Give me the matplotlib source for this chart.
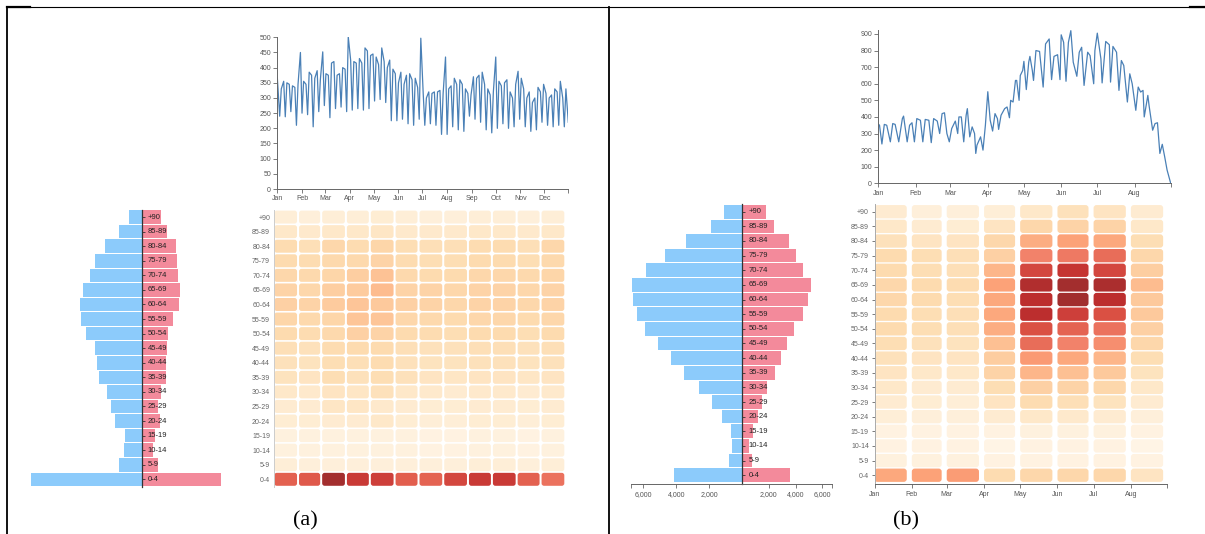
import matplotlib
matplotlib.use("Agg")
import matplotlib.pyplot as plt
from matplotlib.patches import FancyBboxPatch
from matplotlib.lines import Line2D
from matplotlib.colors import PowerNorm

# figure size in pixels, everything below is placed in pixel coords
W, H = 1205, 534

plt.rcParams["font.family"] = ["Liberation Sans", "DejaVu Sans"]

age_groups = ["+90", "85-89", "80-84", "75-79", "70-74", "65-69", "60-64",
              "55-59", "50-54", "45-49", "40-44", "35-39", "30-34", "25-29",
              "20-24", "15-19", "10-14", "5-9", "0-4"]

month_names = ["Jan", "Feb", "Mar", "Apr", "May", "Jun",
               "Jul", "Aug", "Sep", "Oct", "Nov", "Dec"]
# day-of-year where each month starts (leap year)
month_starts = [0, 31, 60, 91, 121, 152, 182, 213, 244, 274, 305, 335, 366]

# --- panel (a) data ---
a_male = [330, 580, 930, 1180, 1330, 1500, 1580, 1540, 1430, 1200,
          1150, 1090, 880, 790, 670, 420, 450, 580, 2830]
a_female = [500, 650, 880, 900, 950, 990, 960, 820, 690, 650,
            640, 620, 490, 420, 470, 350, 290, 420, 2030]

a_days = [0, 3, 5, 8, 10, 12, 15, 17, 19, 22, 24, 26, 29, 31, 33, 36,
          38, 40, 43, 45, 47, 50, 52, 54, 57, 59, 61, 64, 66, 68, 71,
          73, 75, 78, 80, 82, 85, 87, 89, 92, 94, 96, 99, 101, 103, 106,
          108, 110, 113, 115, 117, 120, 122, 124, 127, 129, 131, 134,
          136, 138, 141, 143, 145, 148, 150, 152, 155, 157, 159, 162,
          164, 166, 169, 171, 173, 176, 178, 180, 183, 185, 187, 190,
          192, 194, 197, 199, 201, 204, 206, 208, 211, 213, 215, 218,
          220, 222, 225, 227, 229, 232, 234, 236, 239, 241, 243, 246,
          248, 250, 253, 255, 257, 260, 262, 264, 267, 269, 271, 274,
          276, 278, 281, 283, 285, 288, 290, 292, 295, 297, 299, 302,
          304, 306, 309, 311, 313, 316, 318, 320, 323, 325, 327, 330,
          332, 334, 337, 339, 341, 344, 346, 348, 351, 353, 355, 358,
          360, 362, 365]
a_values = [368, 240, 330, 355, 238, 350, 345, 255, 340, 335, 210, 345, 450,
            250, 355, 345, 245, 385, 375, 205, 365, 390, 255, 360, 452,
            275, 380, 375, 235, 415, 420, 265, 375, 380, 270, 400, 395,
            255, 502, 425, 260, 420, 415, 265, 430, 415, 260, 465, 455,
            265, 440, 445, 290, 435, 410, 295, 465, 420, 285, 400, 425,
            225, 395, 380, 225, 350, 385, 230, 345, 375, 215, 380, 360,
            210, 365, 335, 230, 497, 315, 210, 300, 320, 215, 315, 320,
            210, 320, 325, 180, 315, 435, 180, 330, 340, 205, 365, 345,
            195, 360, 345, 190, 330, 315, 240, 310, 370, 230, 365, 375,
            220, 385, 345, 195, 330, 310, 185, 320, 435, 200, 355, 340,
            215, 350, 360, 200, 320, 300, 205, 345, 388, 230, 365, 330,
            205, 300, 320, 190, 285, 300, 195, 335, 320, 220, 345, 315,
            210, 300, 310, 205, 330, 320, 210, 355, 300, 205, 330, 220]

heat_a = [
    [6, 5, 6, 6, 7, 6, 5, 5, 6, 6, 5, 6],
    [10, 9, 10, 10, 11, 9, 9, 9, 10, 10, 9, 10],
    [17, 15, 20, 17, 21, 16, 15, 15, 17, 17, 15, 20],
    [18, 17, 19, 19, 22, 17, 16, 16, 18, 18, 16, 19],
    [20, 19, 21, 25, 31, 19, 18, 18, 20, 20, 19, 21],
    [22, 20, 25, 27, 33, 22, 22, 20, 22, 22, 20, 22],
    [24, 22, 27, 30, 28, 24, 22, 20, 22, 22, 20, 22],
    [21, 19, 21, 30, 30, 20, 19, 18, 20, 20, 18, 20],
    [18, 17, 19, 24, 22, 18, 17, 16, 18, 18, 16, 18],
    [15, 14, 17, 18, 18, 15, 14, 14, 15, 15, 14, 15],
    [14, 13, 16, 15, 17, 14, 13, 13, 14, 14, 13, 14],
    [13, 12, 16, 14, 16, 14, 12, 11, 12, 12, 11, 12],
    [10, 9, 12, 11, 14, 10, 9, 8, 9, 9, 8, 9],
    [8, 8, 11, 11, 9, 8, 7, 7, 8, 8, 7, 8],
    [7, 7, 8, 8, 10, 7, 6, 6, 7, 7, 6, 7],
    [4, 4, 4, 4, 4, 4, 3, 3, 4, 4, 3, 4],
    [4, 4, 4, 4, 4, 4, 3, 3, 4, 4, 3, 4],
    [6, 5, 5, 5, 5, 5, 5, 5, 6, 6, 5, 6],
    [66, 68, 95, 80, 78, 67, 65, 75, 80, 80, 66, 60],
]

# --- panel (b) data ---
b_male = [1100, 1920, 3380, 4660, 5850, 6700, 6630, 6380, 5900, 5120,
          4340, 3540, 2610, 1810, 1210, 660, 620, 820, 4110]
b_female = [1770, 2390, 3500, 4020, 4590, 5130, 4960, 4590, 3880, 3330,
            2880, 2450, 1820, 1510, 1200, 770, 510, 710, 3620]

b_days = [0, 1, 3, 5, 7, 10, 12, 14, 17, 20, 21, 24, 26, 28, 30,
          32, 35, 37, 39, 42, 44, 46, 49, 51, 53, 55, 57,
          59, 61, 64, 66, 67, 69, 71, 73, 74, 76, 78, 80, 81, 82, 85, 87, 89,
          91, 93, 95, 97, 99, 100, 102, 105, 107, 109, 110, 112, 114, 115,
          117, 118, 120, 121, 123, 125, 126, 128, 129, 131, 134, 137, 139,
          142, 144, 146, 149, 151, 152, 154, 156, 158, 160, 162, 165, 167,
          169, 171, 174, 176, 179, 180, 182, 185, 186, 189, 192, 193, 195,
          198, 200, 202, 204, 207, 209, 211, 214, 216, 218, 220, 221, 224,
          225, 228, 230, 232, 234, 236, 238, 240, 243]
b_values = [357, 350, 237, 355, 350, 250, 360, 355, 250, 390, 405, 250, 350,
            365, 250, 390, 380, 250, 385, 380, 245, 390, 375, 300, 420, 425,
            300, 250, 330, 375, 300, 400, 400, 250, 410, 450, 280, 340, 300,
            180, 230, 280, 200, 350, 552, 380, 315, 420, 390, 325, 410, 450,
            460, 395, 500, 490, 620, 620, 500, 650, 680, 735, 565, 730, 765,
            680, 620, 800, 795, 580, 840, 870, 625, 765, 775, 625, 895, 850,
            615, 850, 920, 730, 645, 790, 820, 590, 790, 770, 600, 800, 905,
            750, 605, 855, 835, 610, 825, 790, 560, 740, 710, 490, 660, 600,
            440, 580, 550, 560, 400, 530, 470, 320, 360, 365, 180, 235, 160,
            80, 0]

heat_b = [
    [8, 5, 5, 6, 10, 14, 12, 8],
    [10, 8, 7, 12, 20, 22, 22, 10],
    [14, 12, 12, 20, 38, 42, 40, 16],
    [18, 16, 15, 24, 55, 58, 62, 20],
    [18, 16, 15, 35, 75, 82, 75, 25],
    [20, 18, 17, 42, 90, 95, 92, 33],
    [20, 18, 16, 40, 86, 96, 86, 28],
    [18, 16, 15, 40, 86, 78, 72, 28],
    [18, 16, 15, 38, 72, 65, 60, 24],
    [16, 14, 13, 32, 62, 55, 50, 20],
    [14, 12, 12, 26, 45, 40, 35, 16],
    [12, 10, 10, 22, 35, 32, 28, 13],
    [10, 8, 8, 16, 24, 22, 20, 10],
    [8, 7, 6, 12, 17, 15, 13, 8],
    [6, 5, 5, 8, 10, 9, 8, 5],
    [3, 3, 3, 3, 4, 4, 4, 3],
    [3, 3, 3, 2, 3, 3, 3, 2],
    [4, 4, 4, 3, 3, 3, 3, 3],
    [40, 42, 44, 17, 20, 20, 20, 12],
]

LINE_COLOR = "#4a80b6"
MALE_COLOR = "#8ccbfb"
FEMALE_COLOR = "#f38a9b"
AXIS_COLOR = "#666666"
cmap = plt.get_cmap("OrRd")
norm = PowerNorm(0.8, vmin=0, vmax=100)


def px_axes(fig, left, top, right, bottom):
    """add an axes given its box in pixels (y measured from the top)"""
    return fig.add_axes([left / W, 1 - bottom / H, (right - left) / W, (bottom - top) / H])


def style_axis(ax, spines=("left", "bottom")):
    for side in ("left", "right", "top", "bottom"):
        ax.spines[side].set_visible(side in spines)
        ax.spines[side].set_color(AXIS_COLOR)
        ax.spines[side].set_linewidth(0.7)
    ax.tick_params(length=3, width=0.6, color=AXIS_COLOR, labelsize=5,
                   labelcolor="#555555", pad=1.5)


def draw_line(ax, days, values, ymax, yticks, n_months, end_day):
    ax.plot(days, values, color=LINE_COLOR, lw=0.9)
    ax.set_xlim(0, end_day)
    ax.set_ylim(0, ymax)
    ax.set_yticks(yticks)
    ax.set_xticks(month_starts[:n_months] + [end_day])
    ax.set_xticklabels(month_names[:n_months] + [""])
    ax.set_facecolor("none")
    style_axis(ax)


def draw_heat(ax, matrix, n_months, end_day, gap_days, row_h, radius_px, box_px, ylim_bottom):
    width_px, height_px = box_px
    x_per_px = end_day / width_px
    y_per_px = (ylim_bottom + 0.5) / height_px
    for i, row in enumerate(matrix):
        for j, v in enumerate(row):
            x0 = month_starts[j]
            w = month_starts[j + 1] - x0 - gap_days
            ax.add_patch(FancyBboxPatch(
                (x0, i - row_h / 2), w, row_h,
                boxstyle="round,pad=0,rounding_size=%f" % (radius_px * x_per_px),
                mutation_aspect=y_per_px / x_per_px,
                fc=cmap(norm(v)), ec="none", alpha=0.82))
    ax.set_xlim(0, end_day)
    ax.set_ylim(ylim_bottom, -0.5)
    ax.set_yticks(range(len(age_groups)))
    ax.set_yticklabels(age_groups)
    ax.set_facecolor("none")


def draw_pyramid(fig, left, center, right, top, bottom, male, female,
                 lim_left, lim_right, ylim_bottom):
    axl = px_axes(fig, left, top, center, bottom)
    axr = px_axes(fig, center, top, right, bottom)
    rows = range(len(age_groups))
    axl.barh(rows, male, height=0.93, color=MALE_COLOR)
    axr.barh(rows, female, height=0.93, color=FEMALE_COLOR)
    axl.set_xlim(lim_left, 0)
    axr.set_xlim(0, lim_right)
    for ax in (axl, axr):
        ax.set_ylim(ylim_bottom, -0.5)
        ax.set_facecolor("none")
    style_axis(axl, spines=())
    style_axis(axr, spines=("left",))
    axl.set_yticks([])
    # centre line with age labels just to the right of it
    axr.spines["left"].set_color("#333333")
    axr.spines["left"].set_linewidth(0.9)
    axr.set_yticks(list(rows))
    axr.tick_params(axis="y", direction="in", length=2.5, color="#333333", labelleft=False)
    for i, lab in enumerate(age_groups):
        axr.annotate(lab, xy=(0, i), xycoords=("axes fraction", "data"),
                     xytext=(4.5, 0), textcoords="offset points",
                     va="center", ha="left", fontsize=5.5, color="#222222")
    return axl, axr


fig = plt.figure(figsize=(W / 100, H / 100), dpi=100)

# ---------------- panel (a) ----------------
ax = px_axes(fig, 277.3, 37.3, 568.3, 189)
draw_line(ax, a_days, a_values, 500, range(0, 501, 50), 12, 365)

ax = px_axes(fig, 274.3, 209.8, 566.3, 486.6)
draw_heat(ax, heat_a, 12, 366, 2.5, 0.89, 2.5, (292, 276.8), 18.5)
style_axis(ax, spines=("left",))
ax.spines["left"].set_color("#cccccc")
ax.tick_params(axis="y", length=0, pad=3, labelcolor="#666666")
ax.set_xticks([])

axl, axr = draw_pyramid(fig, 31, 141.5, 220.5, 209.8, 486.6, a_male, a_female,
                        2830, 2030, 18.5)
axl.set_xticks([])
axr.set_xticks([])

# ---------------- panel (b) ----------------
ax = px_axes(fig, 878.3, 30, 1170.7, 183.3)
draw_line(ax, b_days, b_values, 924, range(0, 901, 100), 8, 243)

ax = px_axes(fig, 874.5, 204.4, 1167, 484.3)
draw_heat(ax, heat_b, 8, 243, 4.2, 0.91, 3, (292.5, 279.9), 18.62)
style_axis(ax)
ax.spines["left"].set_color("#aaaaaa")
ax.tick_params(axis="y", length=2, pad=2, labelcolor="#666666")
ax.set_xticks(month_starts[:8] + [243])
ax.set_xticklabels(month_names[:8] + [""])

axl, axr = draw_pyramid(fig, 631, 742.3, 832, 204.4, 484.3, b_male, b_female,
                        6740, 6740, 18.62)
for a_ in (axl, axr):
    a_.spines["bottom"].set_visible(True)
axl.set_xticks([6740, 6000, 4000, 2000])
axl.set_xticklabels(["", "6,000", "4,000", "2,000"])
axr.set_xticks([2000, 4000, 6000, 6740])
axr.set_xticklabels(["2,000", "4,000", "6,000", ""])

# captions
fig.text(305 / W, 1 - 521 / H, "(a)", family="Liberation Serif", fontsize=16,
         ha="center", va="center")
fig.text(906 / W, 1 - 521 / H, "(b)", family="Liberation Serif", fontsize=16,
         ha="center", va="center")

# table frame around the two panels
def frame_line(x0, y0, x1, y1, lw):
    fig.add_artist(Line2D([x0 / W, x1 / W], [1 - y0 / H, 1 - y1 / H],
                          transform=fig.transFigure, color="black", lw=lw))

frame_line(7, 6.5, 1205, 6.5, 0.8)
frame_line(7, 7, 30, 7, 1.6)
frame_line(1190, 7, 1205, 7, 1.6)
frame_line(7.3, 6.5, 7.3, 534, 1.3)
frame_line(609.3, 6.5, 609.3, 534, 1.3)

fig.savefig("out.png", dpi=100)
